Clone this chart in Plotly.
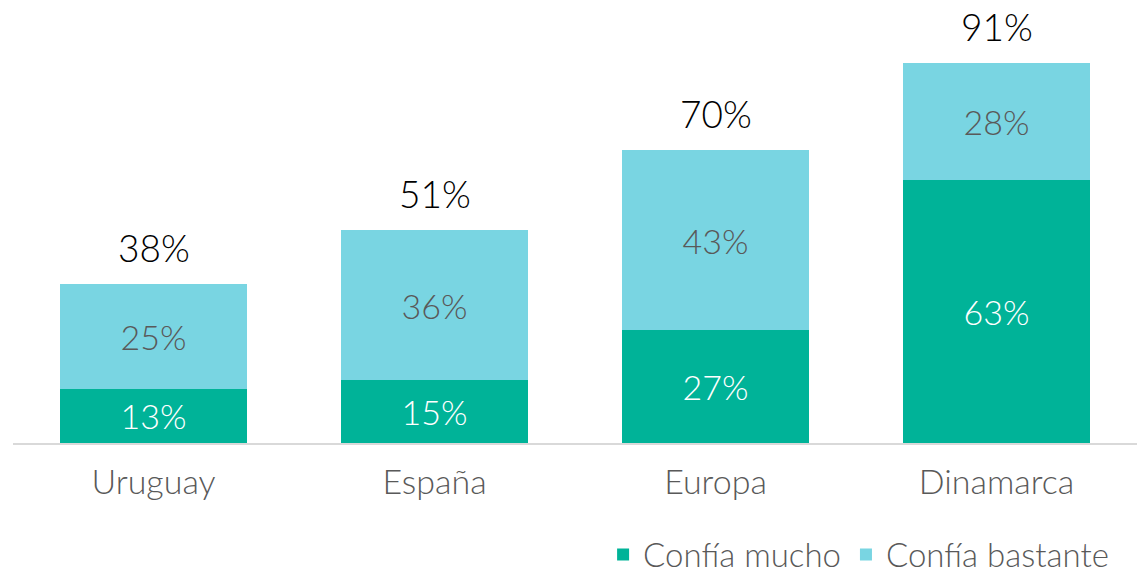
import plotly.graph_objects as go

categories = ["Uruguay", "España", "Europa", "Dinamarca"]
confia_mucho = [13, 15, 27, 63]
confia_bastante = [25, 36, 43, 28]
totals = [38, 51, 70, 91]

FONT = "Lato"
W = 300
DARK = "#00B398"
LIGHT = "#79D5E2"
GREY = "#595959"

fig = go.Figure()
fig.add_trace(go.Bar(
    x=categories, y=confia_mucho, name="Confía mucho",
    marker=dict(color=DARK, line=dict(width=0)),
    text=[f"{v}%" for v in confia_mucho], textposition="inside",
    insidetextanchor="middle", textangle=0,
    textfont=dict(family=FONT, size=34, color="white", weight=W),
))
fig.add_trace(go.Bar(
    x=categories, y=confia_bastante, name="Confía bastante",
    marker=dict(color=LIGHT, line=dict(width=0)),
    text=[f"{v}%" for v in confia_bastante], textposition="inside",
    insidetextanchor="middle", textangle=0,
    textfont=dict(family=FONT, size=34, color=GREY, weight=W),
))

for c, t in zip(categories, totals):
    fig.add_annotation(x=c, y=t, text=f"{t}%", showarrow=False,
                       yanchor="bottom", yshift=13, borderpad=0,
                       font=dict(family=FONT, size=37, color="#000000", weight=W))

fig.update_layout(
    barmode="stack",
    bargap=0.335,
    width=1137, height=561,
    margin=dict(l=5, r=8, t=17, b=126, autoexpand=False),
    plot_bgcolor="white", paper_bgcolor="white",
    showlegend=True,
    legend=dict(orientation="h", x=0.525, xanchor="left", y=-0.2, yanchor="top",
                font=dict(family=FONT, size=33, color=GREY, weight=W),
                traceorder="normal", itemwidth=30, tracegroupgap=0),
    font=dict(family=FONT),
)
fig.update_xaxes(showline=True, linecolor="#D9D9D9", linewidth=2,
                 ticks="", ticklabelstandoff=8,
                 tickfont=dict(family=FONT, size=34, color=GREY, weight=W),
                 showgrid=False)
fig.update_yaxes(range=[0, 100], visible=False, showgrid=False)

fig.write_html("out.html")
